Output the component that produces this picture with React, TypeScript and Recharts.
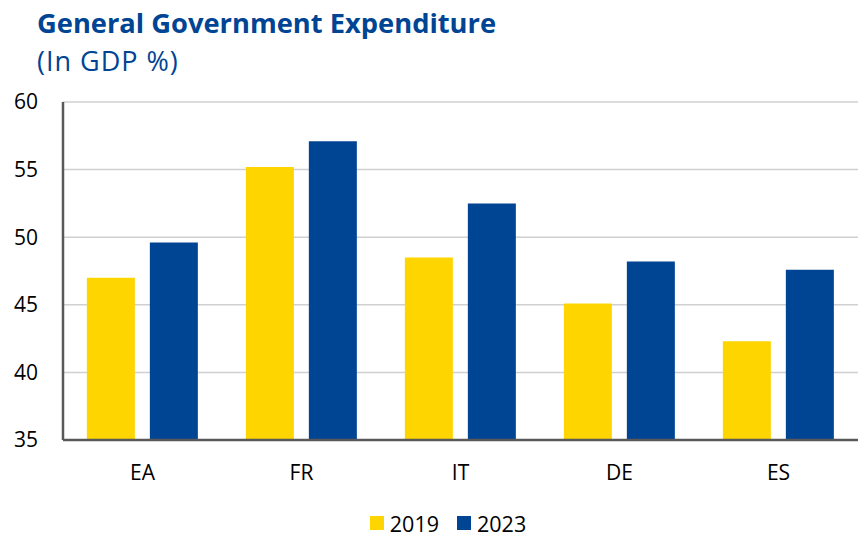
import React from 'react';
import { BarChart, Bar, XAxis, YAxis, CartesianGrid, Legend } from 'recharts';

const countries = ['EA', 'FR', 'IT', 'DE', 'ES'];
const values2019 = [47.0, 55.2, 48.5, 45.1, 42.3];
const values2023 = [49.6, 57.1, 52.5, 48.2, 47.6];
const yTicks = [35, 40, 45, 50, 55, 60];

const data = countries.map((c, i) => ({ country: c, y2019: values2019[i], y2023: values2023[i] }));

const BLUE = '#004494';
const YELLOW = '#FFD500';
const FONT = '"Open Sans", sans-serif';

const LegendContent = (props: any) => {
  const { payload } = props;
  return (
    <div style={{ display: 'flex', justifyContent: 'center', alignItems: 'center', height: 34, boxSizing: 'border-box', paddingTop: 4, fontFamily: FONT, fontSize: 21.5, color: '#000', paddingLeft: 38 }}>
      {(payload || []).map((p: any) => (
        <div key={p.value} style={{ display: 'flex', alignItems: 'center', margin: '0 9px' }}>
          <span style={{ width: 14, height: 14, background: p.color, display: 'inline-block', marginRight: 6 }} />
          <span>{p.value}</span>
        </div>
      ))}
    </div>
  );
};

const App: React.FC = () => {
  return (
    <div style={{ position: 'absolute', left: 0, top: 0, width: 861, height: 538, background: '#fff', fontFamily: FONT }}>
      <div style={{ position: 'absolute', left: 37, top: 4, color: BLUE, fontSize: 27.3, fontWeight: 700, whiteSpace: 'nowrap' }}>
        General Government Expenditure
      </div>
      <div style={{ position: 'absolute', left: 37, top: 42, color: BLUE, fontSize: 27, letterSpacing: 1, whiteSpace: 'nowrap' }}>
        (In GDP %)
      </div>
      <BarChart
        width={861}
        height={538}
        data={data}
        margin={{ top: 102, right: 3, left: 0, bottom: 0 }}
        barCategoryGap="15%"
        barGap={15}
      >
        <CartesianGrid vertical={false} stroke="#D0D0D0" strokeWidth={1.5} />
        <XAxis
          dataKey="country"
          tickLine={false}
          axisLine={{ stroke: '#595959', strokeWidth: 2.5 }}
          height={64}
          tick={{ fill: '#000', fontSize: 21, fontFamily: FONT }}
          dy={17}
        />
        <YAxis
          domain={[35, 60]}
          ticks={yTicks}
          width={63}
          tickLine={false}
          axisLine={{ stroke: '#595959', strokeWidth: 2.5 }}
          tick={{ fill: '#000', fontSize: 21, fontFamily: FONT, textAnchor: 'start' }}
          dx={-41}
          allowDataOverflow
        />
        <Legend verticalAlign="bottom" content={<LegendContent />} wrapperStyle={{ bottom: 0 }} />
        <Bar dataKey="y2019" name="2019" fill={YELLOW} isAnimationActive={false} />
        <Bar dataKey="y2023" name="2023" fill={BLUE} isAnimationActive={false} />
      </BarChart>
    </div>
  );
};

export default App;
